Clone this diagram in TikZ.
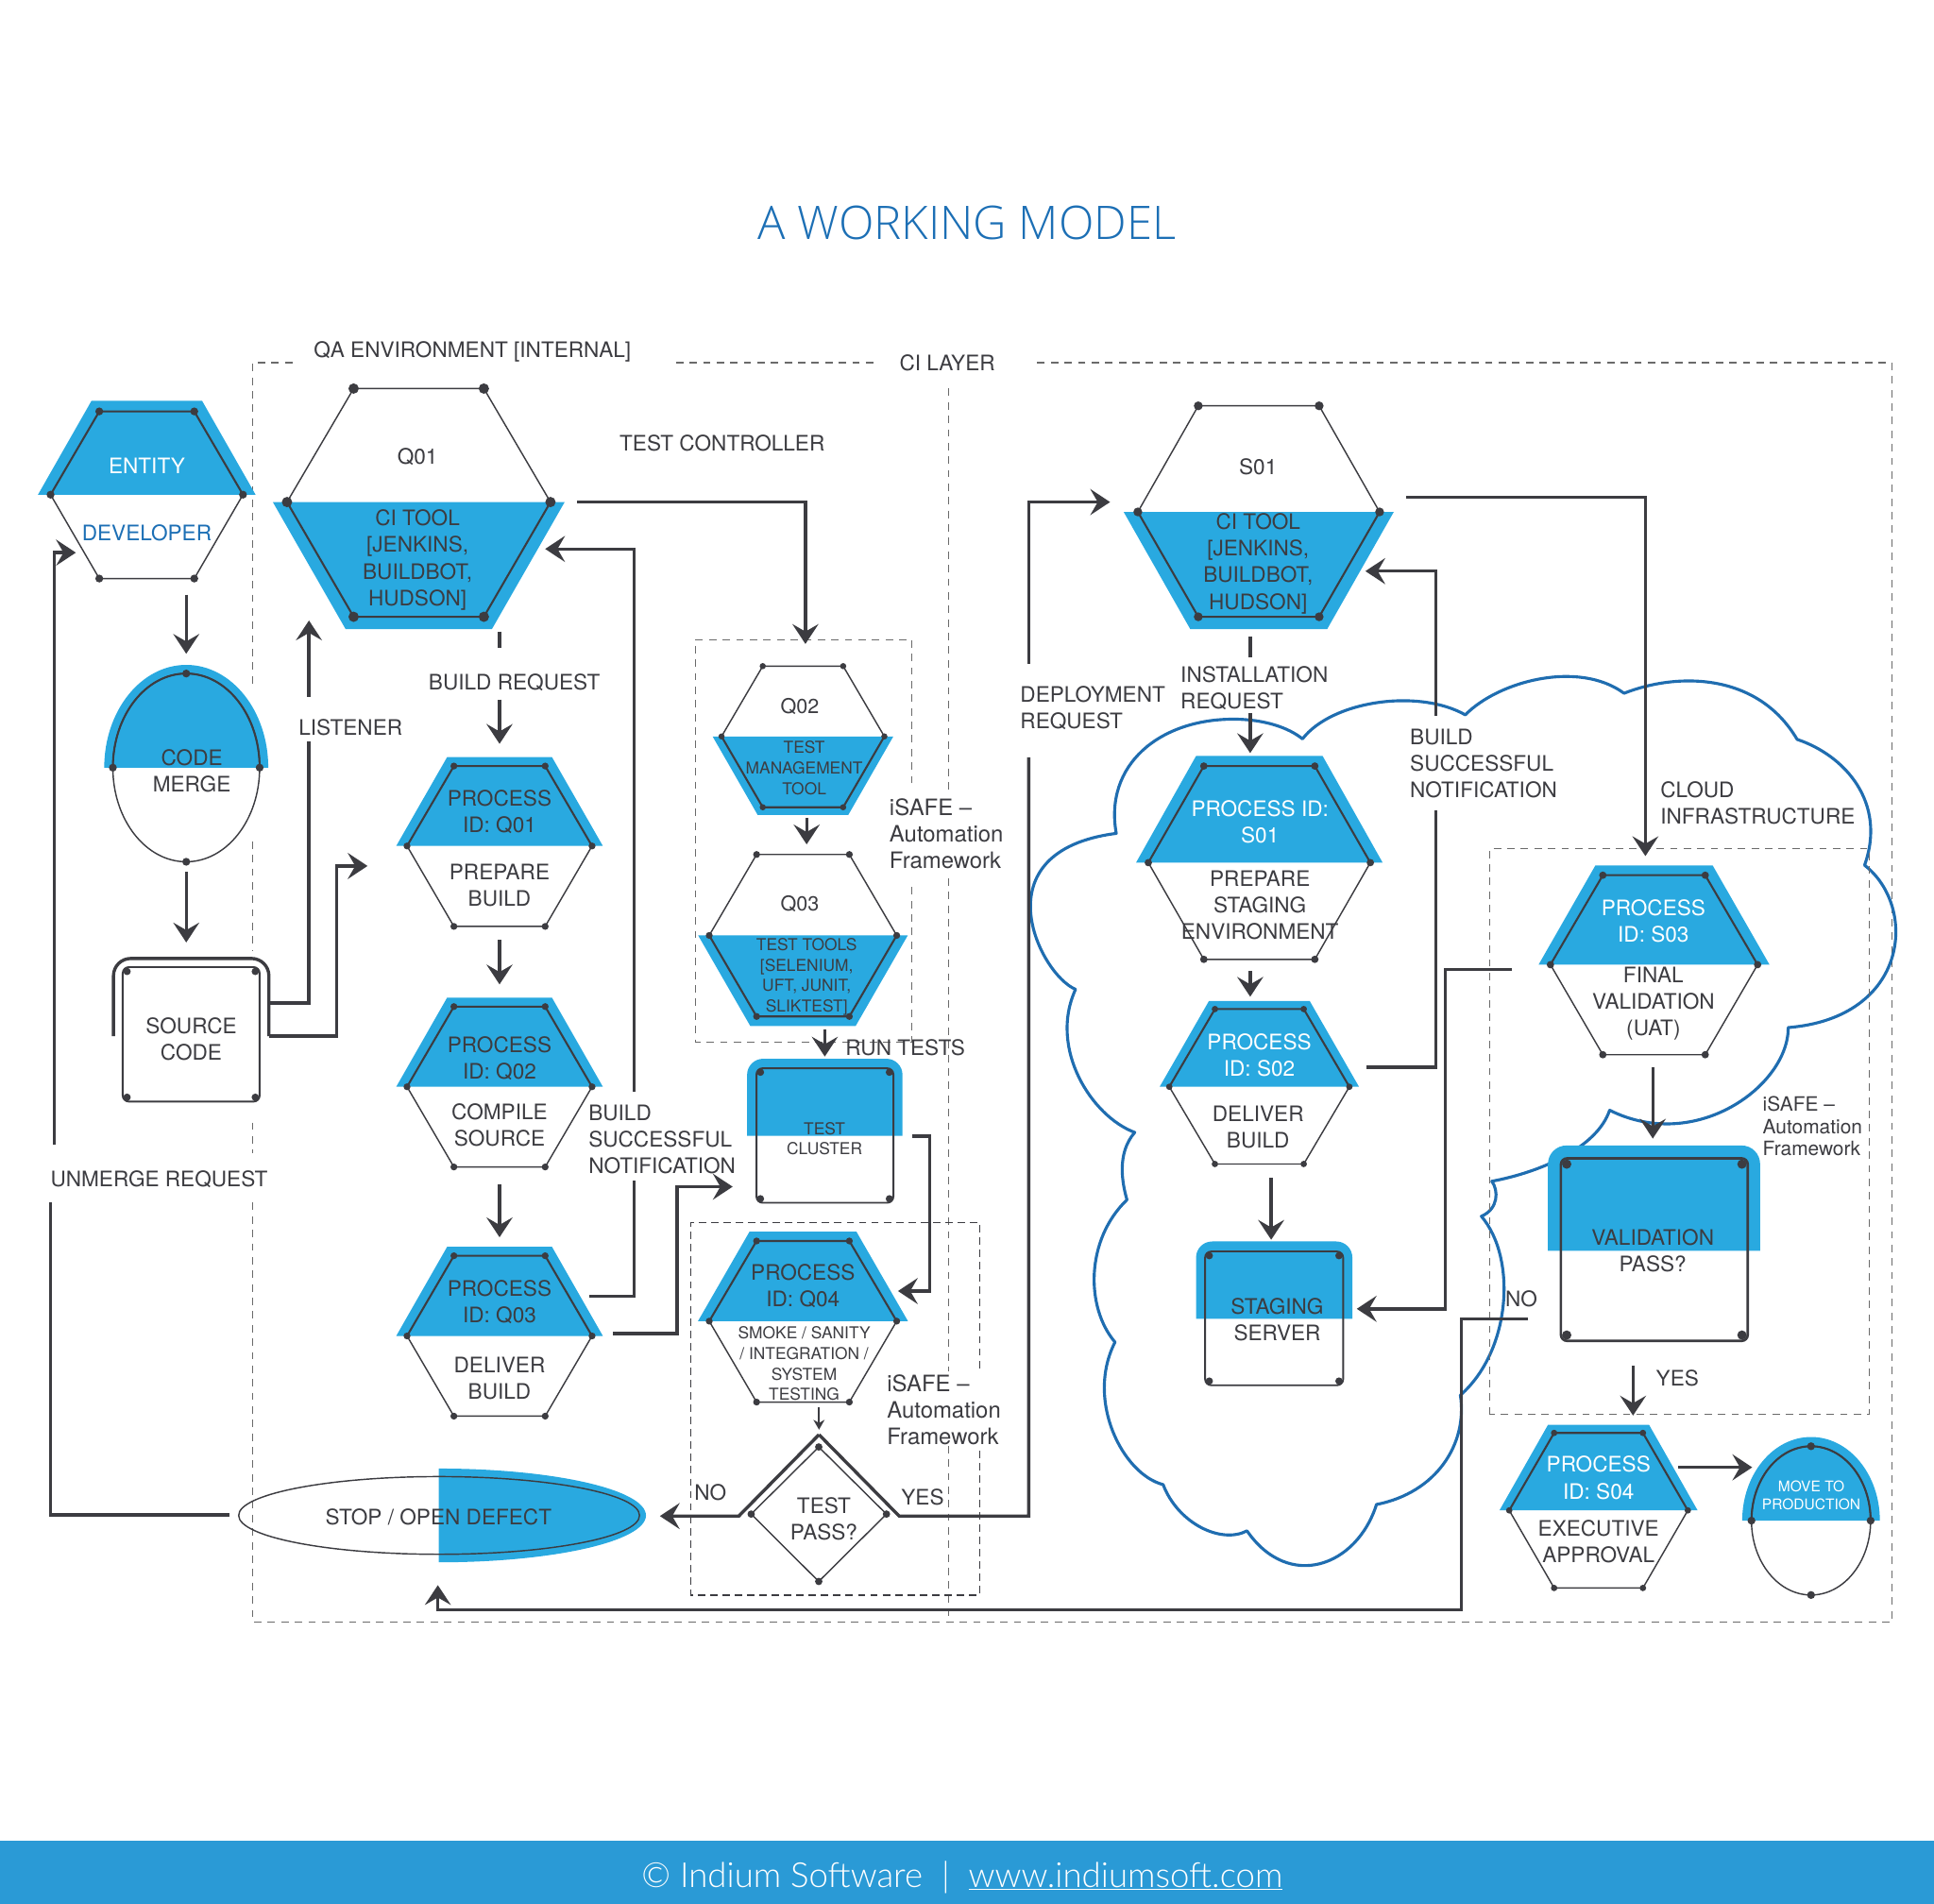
\documentclass[tikz,border=0pt]{standalone}
\usepackage{fontspec}
\setmainfont{TeX Gyre Heros}
\newfontfamily\titlef{Open Sans Light}
\newfontfamily\footf{Lato Light}
\usetikzlibrary{arrows.meta}
\definecolor{blu}{HTML}{29A9E0}
\definecolor{dk}{HTML}{3C3C41}
\definecolor{cloudc}{HTML}{1F6DB0}
\definecolor{titlec}{HTML}{1C6FB5}
\definecolor{footc}{HTML}{2A9AD6}
\definecolor{dashc}{HTML}{6A6A6A}
\tikzset{
 conn/.style={draw=dk,line width=2.6pt,miter limit=10,-{Stealth[length=16pt,width=21pt,inset=6pt]}},
 connp/.style={draw=dk,line width=2.6pt},
 thinl/.style={draw=dk,line width=1.1pt},
 thickl/.style={draw=dk,line width=1.6pt},
 dsh/.style={draw=dashc,line width=0.9pt,dash pattern=on 6pt off 5pt},
 dshd/.style={draw=dk,line width=1.1pt,dash pattern=on 6pt off 4pt},
 txt/.style={text=dk,font=\fontsize{17.3pt}{21.5pt}\selectfont,align=center,inner sep=0pt},
 ltxt/.style={txt,align=left,anchor=west},
 isafe/.style={ltxt,font=\fontsize{18.3pt}{21.5pt}\selectfont},
 wtxt/.style={txt,text=white},
 small/.style={txt,font=\fontsize{13.3pt}{16.6pt}\selectfont},
}
% cx ytop ymid ybot wt wm p r
\newcommand\hexup[8]{%
 \fill[blu] (#1-#5-.75*#7,#2-#7) -- (#1+#5+.75*#7,#2-#7) -- (#1+#6+1.2*#7,#3) -- (#1-#6-1.2*#7,#3) -- cycle;
 \draw[thinl] (#1-#6,#3) -- (#1-#5,#4) -- (#1+#5,#4) -- (#1+#6,#3);
 \draw[thickl] (#1-#6,#3) -- (#1-#5,#2) -- (#1+#5,#2) -- (#1+#6,#3);
 \foreach \px/\py in {#1-#5/#2,#1+#5/#2,#1-#6/#3,#1+#6/#3,#1-#5/#4,#1+#5/#4}{\fill[dk] (\px,\py) circle[radius=#8];}}
\newcommand\hexdown[8]{%
 \fill[blu] (#1-#6-1.15*#7,#3) -- (#1+#6+1.15*#7,#3) -- (#1+#5+.65*#7,#4+#7) -- (#1-#5-.65*#7,#4+#7) -- cycle;
 \draw[thinl] (#1-#6,#3) -- (#1-#5,#2) -- (#1+#5,#2) -- (#1+#6,#3);
 \draw[thickl] (#1-#6,#3) -- (#1-#5,#4) -- (#1+#5,#4) -- (#1+#6,#3);
 \foreach \px/\py in {#1-#5/#2,#1+#5/#2,#1-#6/#3,#1+#6/#3,#1-#5/#4,#1+#5/#4}{\fill[dk] (\px,\py) circle[radius=#8];}}
\newcommand\blubox[5]{\fill[blu] (#1,#4) -- (#1,#3+#5) arc[start angle=180,end angle=270,radius=#5] -- (#2-#5,#3) arc[start angle=270,end angle=360,radius=#5] -- (#2,#4) -- cycle;}
% x1 x2 y1 y2 inset r lw
\newcommand\innerbox[7]{\draw[draw=dk,line width=#7pt,rounded corners=5pt] (#1,#3) rectangle (#2,#4);
 \foreach \px/\py in {#1+#5/#3+#5,#2-#5/#3+#5,#1+#5/#4-#5,#2-#5/#4-#5}{\fill[dk] (\px,\py) circle[radius=#6];}}
% egg: cx cy rx ry  pad
\newcommand\egg[5]{\fill[blu] (#1-#3-#5,#2) arc[start angle=180,end angle=360,x radius=#3+#5,y radius=#4+#5] -- cycle;
 \draw[thinl] (#1,#2) ellipse[x radius=#3,y radius=#4];
 \draw[thickl] (#1-#3,#2) arc[start angle=180,end angle=360,x radius=#3,y radius=#4];
 \foreach \px/\py in {#1-#3/#2,#1+#3/#2,#1/#2-#4,#1/#2+#4}{\fill[dk] (\px,\py) circle[radius=3.2];}}
\begin{document}
\begin{tikzpicture}[x=1pt,y=-1pt]
\useasboundingbox (0,0) rectangle (1568,1543.5);
\fill[white] (0,0) rectangle (1568,1543.5);
\fill[footc] (0,1492) rectangle (1568,1543.5);
\node[text=titlec,inner sep=0pt,font=\fontsize{37.5pt}{40pt}\titlef] (title) at (784,181) {A WORKING MODEL};
% dashed frames
\draw[dsh] (237,294) -- (205,294) -- (205,554);
\draw[dsh] (205,682) -- (205,771);
\draw[dsh] (205,910) -- (205,935);
\draw[dsh] (205,975) -- (205,1315) -- (1534,1315) -- (1534,294) -- (838,294);
\draw[dsh] (548,294) -- (708,294);
\draw[dsh] (769,315) -- (769,640);
\draw[dsh] (769,712) -- (769,1112);
\draw[dsh] (769,1172) -- (769,1315);
\draw[dsh] (739.4,635) -- (739.4,518.5) -- (564,518.5) -- (564,844.7) -- (739.4,844.7) -- (739.4,718.5);
\draw[dshd] (794.4,1109) -- (794.4,991) -- (560,991) -- (560,1293) -- (794.4,1293) -- (794.4,1172);
% cloud
\draw[cloudc,line width=2.4pt,line join=round] (1056,599)
 .. controls (1080,568) and (1150,558) .. (1188,579.5)
 .. controls (1215,552) and (1280,535) .. (1316.7,562)
 .. controls (1360,545) and (1425,545) .. (1457,599.4)
 .. controls (1495,612) and (1530,650) .. (1511.7,701.4)
 .. controls (1555,735) and (1548,825) .. (1449.8,833)
 .. controls (1450,880) and (1375,935) .. (1305,900)
 .. controls (1295,930) and (1250,950) .. (1209.5,957.6)
 .. controls (1215,965) and (1215,980) .. (1201,986)
 .. controls (1230,1020) and (1225,1095) .. (1184,1131)
 .. controls (1190,1170) and (1165,1210) .. (1116,1219.6)
 .. controls (1100,1270) and (1045,1290) .. (1011,1241)
 .. controls (990,1252) and (955,1235) .. (943,1203.5)
 .. controls (910,1195) and (880,1135) .. (904,1088)
 .. controls (880,1060) and (880,1005) .. (913.7,972.6)
 .. controls (910,960) and (905,935) .. (920,918)
 .. controls (885,905) and (850,850) .. (872,802)
 .. controls (843,790) and (793,690) .. (905,675.6)
 .. controls (895,620) and (940,583) .. (1000,583)
 .. controls (1025,583) and (1045,590) .. (1056,599) -- cycle;
\draw[dsh] (1207.6,1146.6) -- (1207.6,688) -- (1515.6,688) -- (1515.6,1146.6) -- cycle;
% shapes
\hexup{119}{333.5}{401}{469}{38.5}{78}{8.5}{3.2}
\hexdown{339.5}{315}{407}{500}{52.8}{106.8}{10}{4.2}
\egg{151}{622.3}{59.5}{76.3}{7}
\draw[draw=dk,line width=2.6pt] (92,840) -- (92,791) arc[start angle=180,end angle=270,radius=14] -- (204,777) arc[start angle=270,end angle=360,radius=14] -- (218,840);
\innerbox{99.5}{210.5}{784}{893}{3.5}{3}{1.5}
\hexup{405}{621}{685.8}{751}{37}{75}{7.3}{2.8}
\hexup{405}{816}{881}{946}{37}{75}{7.3}{2.8}
\hexup{405}{1018}{1083}{1148}{37}{75}{7.3}{2.8}
\hexdown{651}{540}{597}{654.4}{32.6}{66}{6.3}{2.5}
\hexdown{651}{692.7}{758.3}{824}{37.6}{76}{7.8}{2.8}
\blubox{605.7}{731.7}{858.3}{920.8}{13}
\innerbox{613.3}{724.3}{866}{975}{3.2}{3}{1.5}
\hexup{651}{1006}{1071}{1136.6}{37.6}{76}{7.6}{2.8}
\hexdown{1020.5}{329}{415}{500}{49}{98}{10}{3.6}
\hexup{1021}{621}{699.3}{777.7}{45}{90}{8.3}{3}
\hexup{1021}{818}{881}{943.6}{36}{73}{6.5}{2.6}
\blubox{969.7}{1096.4}{1006.4}{1069}{13}
\innerbox{977}{1089}{1014.5}{1123}{3.4}{3}{1.4}
\hexup{1341}{709.5}{782}{855}{41.5}{84}{8}{3}
\blubox{1255}{1427}{928.6}{1014}{15}
\innerbox{1265.5}{1417}{939}{1087}{4.7}{3.8}{2}
\hexup{1296}{1161.6}{1224.4}{1287.3}{36}{72.4}{6.6}{2.6}
\egg{1468.3}{1232.7}{48.3}{60.3}{7.5}
% stop ellipse
\fill[blu] (355.7,1190.5) arc[start angle=270,end angle=450,x radius=168,y radius=38] -- cycle;
\draw[thinl] (356,1228.5) ellipse[x radius=162.5,y radius=31.5];
% diamond
\draw[thinl] (663.8,1173) -- (718.7,1227.4) -- (663.8,1282) -- (609,1227.4) -- cycle;
\foreach \px/\py in {663.8/1173,718.7/1227.4,663.8/1282,609/1227.4}{\fill[dk] (\px,\py) circle[radius=3];}
% connector end points
\coordinate (entB) at (151,482); \coordinate (mergeT) at (151,530);
\coordinate (mergeB) at (151,707); \coordinate (srcT) at (151,764);
\coordinate (stopW) at (186,1228); \coordinate (unA) at (41,975);
\coordinate (unB) at (44,928); \coordinate (devW) at (61.5,448);
\coordinate (srcR1) at (218,813); \coordinate (lisA) at (250.5,601);
\coordinate (lisB) at (250.5,565); \coordinate (q01L) at (250.5,503);
\coordinate (srcR2) at (218,840); \coordinate (pq1L) at (298,702);
\coordinate (q01R) at (468,407); \coordinate (q02T) at (653,522);
\coordinate (q01B) at (405,512); \coordinate (brA) at (405,525);
\coordinate (brB) at (405,567); \coordinate (pq1T) at (405,603);
\coordinate (pq1B) at (405,762); \coordinate (pq2T) at (405,798);
\coordinate (pq2B) at (405,960); \coordinate (pq3T) at (405,1003);
\coordinate (pq3R1) at (478,1051); \coordinate (bsA) at (514,957);
\coordinate (bsB) at (514,885); \coordinate (q01Rb) at (442,445);
\coordinate (pq3R2) at (497,1081); \coordinate (clL) at (594,962);
\coordinate (q02B) at (654,663); \coordinate (q03T) at (654,684.5);
\coordinate (q03B) at (668.7,834.5); \coordinate (clT) at (668.7,856.5);
\coordinate (clR) at (739.4,921); \coordinate (pq4R) at (728,1046.6);
\coordinate (pq4B) at (664,1141); \coordinate (diaT) at (664,1159);
\coordinate (diaTop) at (664,1163); \coordinate (diaL) at (599,1229);
\coordinate (diaR) at (729,1229); \coordinate (stopE) at (535,1229);
\coordinate (depA) at (834,614); \coordinate (depB) at (834,538);
\coordinate (s01L) at (900,407);
\coordinate (s01B) at (1013.6,516); \coordinate (inA) at (1013.6,533);
\coordinate (inB) at (1013.6,578); \coordinate (ps1T) at (1013.6,610.5);
\coordinate (ps1B) at (1013.6,787); \coordinate (ps2T) at (1013.6,808);
\coordinate (ps2B) at (1030.6,955); \coordinate (stT) at (1030.6,1005);
\coordinate (ps2R) at (1108,865); \coordinate (bnA) at (1164,657);
\coordinate (bnB) at (1164,580); \coordinate (s01Rb) at (1107,463);
\coordinate (s01R) at (1140,403); \coordinate (ps3T) at (1334,694);
\coordinate (ps3L) at (1226,786); \coordinate (stR) at (1100,1061);
\coordinate (ps3B) at (1340,865); \coordinate (valT) at (1340,923);
\coordinate (valL) at (1239,1069); \coordinate (stopS) at (355,1285);
\coordinate (valB) at (1324,1107); \coordinate (ps4T) at (1324,1147.5);
\coordinate (ps4R) at (1360.6,1189.5); \coordinate (mvL) at (1420.6,1189.5);
% connectors
\draw[conn] (entB) -- (mergeT);
\draw[conn] (mergeB) -- (srcT);
\draw[connp] (stopW) -| (unA);
\draw[conn] (unB) |- (devW);
\draw[connp] (srcR1) -| (lisA);
\draw[conn] (lisB) -- (q01L);
\draw[conn] (srcR2) -- ++(55,0) |- (pq1L);
\draw[conn] (q01R) -| (q02T);
\draw[connp] (q01B) -- (brA);
\draw[conn] (brB) -- (pq1T);
\draw[conn] (pq1B) -- (pq2T);
\draw[conn] (pq2B) -- (pq3T);
\draw[connp] (pq3R1) -| (bsA);
\draw[conn] (bsB) |- (q01Rb);
\draw[conn] (pq3R2) -- ++(52,0) |- (clL);
\draw[conn] (q02B) -- (q03T);
\draw[conn] (q03B) -- (clT);
\draw[conn] (clR) -- ++(14.3,0) |- (pq4R);
\draw[draw=dk,line width=1.2pt,-{Stealth[length=8pt,width=9pt,inset=2.5pt]}] (pq4B) -- (diaT);
\draw[conn,line join=miter] (diaTop) -- (diaL) -- (stopE);
\draw[connp,line join=miter] (diaTop) -- (diaR) -| (depA);
\draw[conn] (depB) |- (s01L);
\draw[connp] (s01B) -- (inA);
\draw[conn] (inB) -- (ps1T);
\draw[conn] (ps1B) -- (ps2T);
\draw[conn] (ps2B) -- (stT);
\draw[connp] (ps2R) -| (bnA);
\draw[conn] (bnB) |- (s01Rb);
\draw[conn] (s01R) -| (ps3T);
\draw[conn] (ps3L) -- ++(-54,0) |- (stR);
\draw[conn] (ps3B) -- (valT);
\draw[conn] (valL) -- ++(-54,0) -- ++(0,236) -| (stopS);
\draw[conn] (valB) -- (ps4T);
\draw[conn] (ps4R) -- (mvL);
% texts
\node[wtxt] (tEnt) at (119,377.5) {ENTITY};
\node[txt,text=titlec] (tDev) at (119,432) {DEVELOPER};
\node[txt] (tQ01) at (338.5,370.5) {Q01};
\node[txt] (tCi1) at (338.5,454) {CI TOOL\\{[}JENKINS,\\BUILDBOT,\\HUDSON{]}};
\node[txt] (tMerge) at (155.5,625) {CODE\\MERGE};
\node[txt] (tSrc) at (155,842.5) {SOURCE\\CODE};
\node[txt] (tP1) at (405,658) {PROCESS\\ID: Q01};
\node[txt] (tP1b) at (405,718) {PREPARE\\BUILD};
\node[txt] (tP2) at (405,858) {PROCESS\\ID: Q02};
\node[txt] (tP2b) at (405,912) {COMPILE\\SOURCE};
\node[txt] (tP3) at (405,1055.5) {PROCESS\\ID: Q03};
\node[txt] (tP3b) at (405,1117.5) {DELIVER\\BUILD};
\node[txt,font=\fontsize{16.5pt}{20pt}\selectfont] (tQ02) at (648.5,573) {Q02};
\node[small] (tMgmt) at (652,622.5) {TEST\\MANAGEMENT\\TOOL};
\node[txt,font=\fontsize{16.5pt}{20pt}\selectfont] (tQ03) at (648.5,732.5) {Q03};
\node[small] (tTools) at (654,792) {TEST TOOLS\\{[}SELENIUM,\\UFT, JUNIT,\\SLIKTEST{]}};
\node[small] (tClu) at (668.5,923) {TEST\\CLUSTER};
\node[txt] (tQ4) at (651,1042.5) {PROCESS\\ID: Q04};
\node[small] (tSmoke) at (652,1105.5) {SMOKE / SANITY\\/ INTEGRATION /\\SYSTEM\\TESTING};
\node[txt] (tPass) at (668,1231) {TEST\\PASS?};
\node[txt] (tStop) at (355.5,1230) {STOP / OPEN DEFECT};
\node[txt] (tQa) at (383,285.5) {QA ENVIRONMENT [INTERNAL]};
\node[txt] (tCi) at (768,294) {CI LAYER};
\node[txt] (tTc) at (585.5,359) {TEST CONTROLLER};
\node[isafe] (tIs1) at (721,676) {iSAFE --\\Automation\\Framework};
\node[isafe] (tIs2) at (719,1143) {iSAFE --\\Automation\\Framework};
\node[ltxt,font=\fontsize{16pt}{18.2pt}\selectfont] (tIs3) at (1429,913) {iSAFE --\\Automation\\Framework};
\node[txt] (tRun) at (734,849) {RUN TESTS};
\node[ltxt] (tBs) at (477,924) {BUILD\\SUCCESSFUL\\NOTIFICATION};
\node[ltxt] (tLis) at (242,590) {LISTENER};
\node[txt] (tBr) at (417,553) {BUILD REQUEST};
\node[txt] (tUn) at (129,956) {UNMERGE REQUEST};
\node[ltxt] (tDep) at (827,574) {DEPLOYMENT\\REQUEST};
\node[ltxt] (tIn) at (957,558) {INSTALLATION\\REQUEST};
\node[ltxt] (tBn) at (1143,619) {BUILD\\SUCCESSFUL\\NOTIFICATION};
\node[ltxt] (tCl) at (1346,651) {CLOUD\\INFRASTRUCTURE};
\node[txt] (tS01) at (1020,378.5) {S01};
\node[txt] (tCi2) at (1020,457) {CI TOOL\\{[}JENKINS,\\BUILDBOT,\\HUDSON{]}};
\node[wtxt] (tPs1) at (1021.5,666.5) {PROCESS ID:\\S01};
\node[txt] (tPs1b) at (1021.5,733.5) {PREPARE\\STAGING\\ENVIRONMENT};
\node[wtxt] (tPs2) at (1021,855.5) {PROCESS\\ID: S02};
\node[txt] (tPs2b) at (1020,914) {DELIVER\\BUILD};
\node[txt] (tSt) at (1035.5,1070) {STAGING\\SERVER};
\node[wtxt] (tPs3) at (1340.5,747) {PROCESS\\ID: S03};
\node[txt] (tPs3b) at (1340.5,813.5) {FINAL\\VALIDATION\\(UAT)};
\node[txt] (tVal) at (1340,1014) {VALIDATION\\PASS?};
\node[wtxt] (tPs4) at (1296,1198) {PROCESS\\ID: S04};
\node[txt] (tPs4b) at (1296,1250) {EXECUTIVE\\APPROVAL};
\node[wtxt,font=\fontsize{11.9pt}{14.5pt}\selectfont] (tMv) at (1468.5,1212) {MOVE TO\\PRODUCTION};
\node[txt] (tNo1) at (576,1210) {NO};
\node[txt] (tYes1) at (748,1214) {YES};
\node[txt] (tNo2) at (1233.5,1053) {NO};
\node[txt] (tYes2) at (1360,1117) {YES};
\node[text=white,inner sep=0pt,font=\fontsize{28pt}{32pt}\footf,anchor=base] (tFoot) at (780,1530) {© Indium Software\ \ |\ \ \underline{www.indiumsoft.com}};
\end{tikzpicture}
\end{document}
